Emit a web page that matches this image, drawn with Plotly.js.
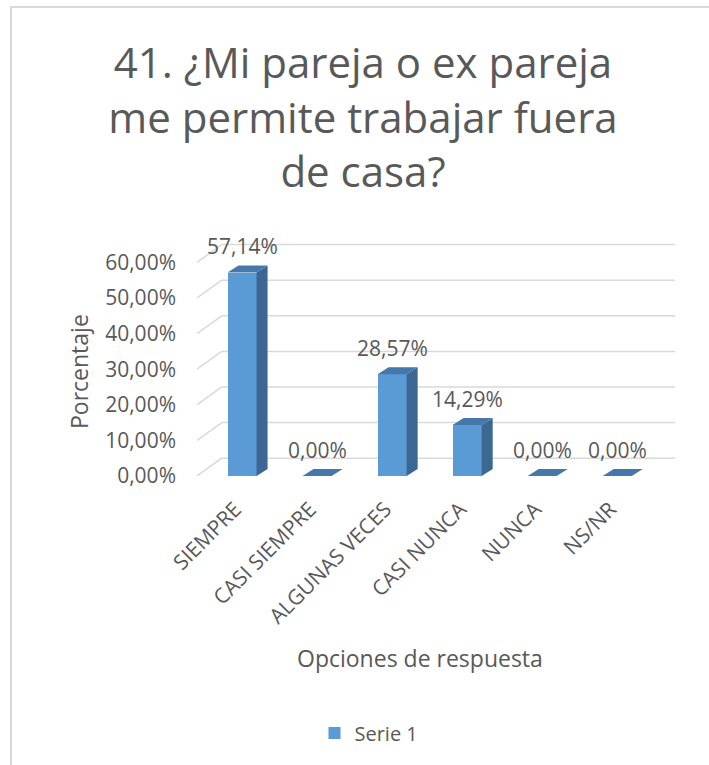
<!DOCTYPE html>
<html>
<head>
<meta charset="utf-8">
<script src="https://cdn.plot.ly/plotly-3.0.1.min.js"></script>
<style>
  html, body { margin: 0; padding: 0; background: #ffffff; }
  #wrap { position: relative; width: 709px; height: 765px; overflow: hidden; }
  #chart { position: absolute; left: 0; top: 0; width: 709px; height: 765px; }
  #frame { position: absolute; left: 10px; top: 6px; right: -10px; bottom: -10px;
           border-left: 2px solid #d9d9d9; border-top: 2px solid #d9d9d9; pointer-events: none; }
</style>
</head>
<body>
<div id="wrap"><div id="chart"></div><div id="frame"></div></div>
<script>
// ---- data ----
const categories = ['SIEMPRE', 'CASI SIEMPRE', 'ALGUNAS VECES', 'CASI NUNCA', 'NUNCA', 'NS/NR'];
const values = [57.14, 0.00, 28.57, 14.29, 0.00, 0.00];
const valueLabels = ['57,14%', '0,00%', '28,57%', '14,29%', '0,00%', '0,00%'];
const tickValues = [0, 10, 20, 30, 40, 50, 60];
const tickLabels = ['0,00%', '10,00%', '20,00%', '30,00%', '40,00%', '50,00%', '60,00%'];
const seriesName = 'Serie 1';

// ---- styling / pseudo-3D geometry (not data) ----
const FONT = '"Open Sans", "Noto Sans", sans-serif';
const TXT = '#595959';
const FRONT = '#5b9bd5';
const SIDE = '#3b6792';
const TOP = '#4677ab';
const GRID = '#d9d9d9';
const barW = 0.387, sideDx = 0.147, capDy = 2.0;
const wallDx = 0.33, wallDy = 5.0;
const xMin = -0.6, xMax = 5.77;

const idx = categories.map((c, i) => i);

// side and top faces computed from the values
const sideX = [], sideY = [], topX = [], topY = [];
idx.forEach(i => {
  const v = values[i];
  const r = i + barW / 2, l = i - barW / 2;
  if (v > 0) {
    sideX.push(r, r + sideDx, r + sideDx, r, r, null);
    sideY.push(0, capDy, v + capDy, v, 0, null);
  }
  topX.push(l, r, r + sideDx, l + sideDx, l, null);
  topY.push(v, v, v + capDy, v + capDy, v, null);
});

const traces = [
  {
    type: 'bar', x: idx, y: values, name: seriesName,
    width: barW, marker: { color: FRONT, line: { width: 0 } },
    showlegend: true, hoverinfo: 'skip'
  },
  {
    type: 'scatter', mode: 'lines', x: sideX, y: sideY, fill: 'toself',
    fillcolor: SIDE, line: { width: 0, color: SIDE }, showlegend: false,
    hoverinfo: 'skip', cliponaxis: false
  },
  {
    type: 'scatter', mode: 'lines', x: topX, y: topY, fill: 'toself',
    fillcolor: TOP, line: { width: 0, color: TOP }, showlegend: false,
    hoverinfo: 'skip', cliponaxis: false
  }
];

// back-wall gridlines with slanted side-wall segments
const shapes = [];
tickValues.forEach(t => {
  shapes.push({ type: 'line', xref: 'x', yref: 'y', x0: xMin, y0: t, x1: xMin + wallDx, y1: t + wallDy,
                line: { color: GRID, width: 1.5 }, layer: 'below' });
  shapes.push({ type: 'line', xref: 'x', yref: 'y', x0: xMin + wallDx, y0: t + wallDy, x1: xMax, y1: t + wallDy,
                line: { color: GRID, width: 1.5 }, layer: 'below' });
});

const annotations = idx.map(i => ({
  x: i, y: values[i] + capDy, xref: 'x', yref: 'y', text: valueLabels[i],
  showarrow: false, yanchor: 'bottom', yshift: 3,
  font: { family: FONT, size: 21, color: TXT }
}));
annotations.push({
  text: 'Opciones de respuesta', xref: 'paper', yref: 'paper',
  x: (420 - 197) / 478, y: (476 - 658) / 235, showarrow: false,
  xanchor: 'center', yanchor: 'middle', font: { family: FONT, size: 23, color: TXT }
});
annotations.push({
  text: 'Porcentaje', xref: 'paper', yref: 'paper', textangle: -90,
  x: (79 - 197) / 478, y: (476 - 372) / 235, showarrow: false,
  xanchor: 'center', yanchor: 'middle', font: { family: FONT, size: 23, color: TXT }
});

const layout = {
  width: 709, height: 765,
  paper_bgcolor: '#ffffff', plot_bgcolor: 'rgba(0,0,0,0)',
  margin: { l: 197, r: 34, t: 241, b: 289, pad: 0 },
  font: { family: FONT, color: TXT },
  title: {
    text: '41. ¿Mi pareja o ex pareja<br>me permite trabajar fuera<br>de casa?',
    font: { family: FONT, size: 42, color: TXT },
    x: 363 / 709, xanchor: 'center', xref: 'container',
    y: 1 - 78 / 765, yanchor: 'top', yref: 'container'
  },
  xaxis: {
    type: 'linear', range: [xMin, xMax], tickvals: idx, ticktext: categories,
    tickangle: -45, showgrid: false, zeroline: false, showline: false,
    ticks: '', ticklabelstandoff: 16, ticklabelshift: -7,
    tickfont: { family: FONT, size: 21, color: TXT }, fixedrange: true
  },
  yaxis: {
    range: [0, 66], tickvals: tickValues, ticktext: tickLabels,
    showgrid: false, zeroline: false, showline: false, ticks: '',
    ticklabelstandoff: 20,
    tickfont: { family: FONT, size: 21, color: TXT }, fixedrange: true
  },
  shapes: shapes,
  annotations: annotations,
  showlegend: true,
  legend: {
    orientation: 'h', x: (369 - 197) / 478, xanchor: 'center',
    y: (476 - 733) / 235, yanchor: 'middle',
    font: { family: FONT, size: 20, color: TXT }, bgcolor: 'rgba(0,0,0,0)'
  },
  bargap: 0
};

Plotly.newPlot('chart', traces, layout, { displayModeBar: false, staticPlot: true });
</script>
</body>
</html>
